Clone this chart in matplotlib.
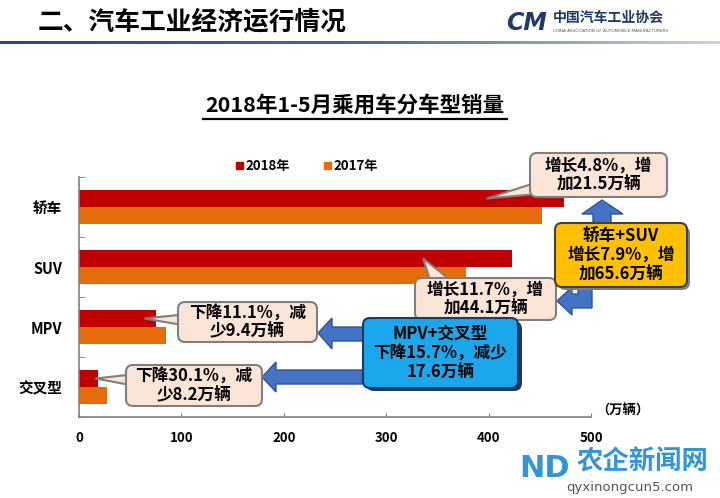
"""Passenger car sales by body type, Jan-May 2018 vs 2017."""
import numpy as np
import matplotlib
matplotlib.use("Agg")
import matplotlib.pyplot as plt
from matplotlib.patches import FancyBboxPatch, Polygon, Rectangle

plt.rcParams['font.family'] = ['Noto Sans CJK SC', 'DejaVu Sans']

categories = ["轿车", "SUV", "MPV", "交叉型"]
sales_2018 = [474, 423, 75.3, 19.0]
sales_2017 = [452, 378, 84.7, 27.2]
x_ticks = [0, 100, 200, 300, 400, 500]
series_names = ["2018年", "2017年"]

RED = "#c00000"
ORANGE = "#e46c0a"
PEACH = "#fbe5d6"
ARROW_BLUE = "#4472c4"

W, H = 720, 498
fig = plt.figure(figsize=(W / 100, H / 100), dpi=100)
fig.patch.set_facecolor("white")

# main bar axes, placed in pixel terms
ax_l, ax_r, ax_t, ax_b = 79, 591, 177, 417
ax = fig.add_axes([ax_l / W, 1 - ax_b / H, (ax_r - ax_l) / W, (ax_b - ax_t) / H])

y = np.arange(len(categories))
h = 0.283
ax.barh(y - h / 2, sales_2018, height=h, color=RED, zorder=2)
ax.barh(y + h / 2, sales_2017, height=h, color=ORANGE, zorder=2)
ax.set_xlim(0, 500)
ax.set_ylim(len(categories) - 0.5, -0.5)
ax.set_xticks(x_ticks)
ax.set_xticklabels([str(t) for t in x_ticks], fontsize=9.5, fontweight="bold")
ax.set_yticks(y)
ax.set_yticklabels(categories, fontsize=10.5, fontweight="bold")
ax.set_yticks(np.arange(-0.5, len(categories), 1), minor=True)
ax.tick_params(axis="y", which="major", length=0, pad=12)
ax.tick_params(axis="y", which="minor", length=4, direction="in", color="#808080")
ax.tick_params(axis="x", length=3, direction="in", color="#808080", pad=10)
for s in ["top", "right"]:
    ax.spines[s].set_visible(False)
for s in ["left", "bottom"]:
    ax.spines[s].set_color("#808080")
    ax.spines[s].set_linewidth(1.2)

# overlay in pixel coordinates for all the decoration
ov = fig.add_axes([0, 0, 1, 1])
ov.set_xlim(0, W)
ov.set_ylim(H, 0)
ov.axis("off")


def to_px(xd, yd):
    disp = ax.transData.transform((xd, yd))
    return ov.transData.inverted().transform(disp)


# header
grad = np.linspace(0, 1, 256).reshape(1, -1)
ov.imshow(grad, extent=(0, W, 44, 41), cmap=matplotlib.colors.LinearSegmentedColormap.from_list(
    "hdr", ["#2c4a6b", "#4a6a8a", "#c8d4e0"]), aspect="auto", zorder=1)
ov.set_xlim(0, W)
ov.set_ylim(H, 0)
ov.text(38, 22, "二、汽车工业经济运行情况", fontsize=18.5, fontweight="bold",
        ha="left", va="center", color="black")
ov.text(527, 23, "CM", fontsize=17, fontweight="bold", style="italic",
        ha="center", va="center", color="#1f3a68", family="DejaVu Sans")
ov.text(553, 18, "中国汽车工业协会", fontsize=10, fontweight="bold",
        ha="left", va="center", color="#1f3a68")
ov.text(553, 31, "CHINA ASSOCIATION OF AUTOMOBILE MANUFACTURERS", fontsize=3,
        ha="left", va="center", color="#555555", family="DejaVu Sans")

# chart title with underline
ov.text(355, 105, "2018年1-5月乘用车分车型销量", fontsize=15.5, fontweight="bold",
        ha="center", va="center")
ov.plot([203, 507], [119, 119], color="black", lw=1.6)

# legend
for lx, col, name in [(236, RED, series_names[0]), (324, ORANGE, series_names[1])]:
    ov.add_patch(Rectangle((lx, 162), 7, 7, color=col))
    ov.text(lx + 9, 166, name, fontsize=9.5, fontweight="bold", ha="left", va="center")

ov.text(596, 411, "（万辆）", fontsize=9.5, fontweight="bold", ha="left", va="center")


def callout(x0, y0, x1, y1, text, base, tip, fc=PEACH, ec="#7f7f7f"):
    if tip is not None:
        ov.add_patch(Polygon([base[0], tip, base[1]], closed=True, fc=fc, ec=ec,
                             lw=1.5, zorder=3))
    ov.add_patch(FancyBboxPatch((x0, y0), x1 - x0, y1 - y0,
                                boxstyle="round,pad=0,rounding_size=7",
                                fc=fc, ec=ec, lw=1.5, zorder=4))
    ov.text((x0 + x1) / 2, (y0 + y1) / 2, text, fontsize=12, fontweight="bold",
            ha="center", va="center", linespacing=1.1, zorder=5)


def block_arrow(pts):
    ov.add_patch(Polygon(pts, closed=True, fc=ARROW_BLUE, ec="#2f5597", lw=1, zorder=3))


# block arrows
block_arrow([(602, 200), (623, 214), (611, 214), (611, 226), (593, 226), (593, 214), (582, 214)])
block_arrow([(557, 301), (572, 287), (572, 294), (578, 294), (578, 284), (592, 284),
             (592, 308), (572, 308), (572, 315)])
block_arrow([(318, 333), (332, 318), (332, 327), (366, 327), (366, 341), (332, 341), (332, 349)])
block_arrow([(262, 377), (276, 362), (276, 370), (366, 370), (366, 384), (276, 384), (276, 392)])

# callouts with tails to the 2018 bars
callout(530, 153, 667, 197, "增长4.8%，增\n加21.5万辆",
        [(538, 182), (560, 192)], to_px(398, 0 - h / 2))
callout(415, 278, 556, 320, "增长11.7%，增\n加44.1万辆",
        [(432, 286), (458, 286)], to_px(336, 1 - h / 2))
callout(178, 302, 317, 342, "下降11.1%，减\n少9.4万辆",
        [(188, 314), (188, 326)], to_px(64, 2 - h / 2))
callout(126, 365, 262, 406, "下降30.1%，减\n少8.2万辆",
        [(136, 374), (136, 386)], to_px(16, 3 - h / 2))

# summary boxes with shadows
ov.add_patch(FancyBboxPatch((558, 226), 132, 64, boxstyle="round,pad=0,rounding_size=8",
                            fc="#7f7f7f", ec="none", zorder=3.5))
callout(555, 223, 687, 287, "轿车+SUV\n增长7.9%，增\n加65.6万辆", None, None,
        fc="#ffc000", ec="#404040")
ov.add_patch(FancyBboxPatch((366, 321), 156, 70, boxstyle="round,pad=0,rounding_size=8",
                            fc="#1f3864", ec="none", zorder=3.5))
callout(363, 318, 518, 388, "MPV+交叉型\n下降15.7%，减少\n17.6万辆", None, None,
        fc="#1aa7ec", ec="#1f3864")

# watermark
ov.text(545, 468, "ND", fontsize=22, fontweight="bold", color="#1c8ad6",
        ha="center", va="center", family="DejaVu Sans", alpha=0.9)
ov.text(643, 462, "农企新闻网", fontsize=19, fontweight="bold", color="#1c8ad6",
        ha="center", va="center", alpha=0.9)
ov.text(630, 487, "qyxinongcun5.com", fontsize=9.5, color="#555555",
        ha="center", va="center", family="DejaVu Sans")

fig.savefig("out.png", dpi=100)
